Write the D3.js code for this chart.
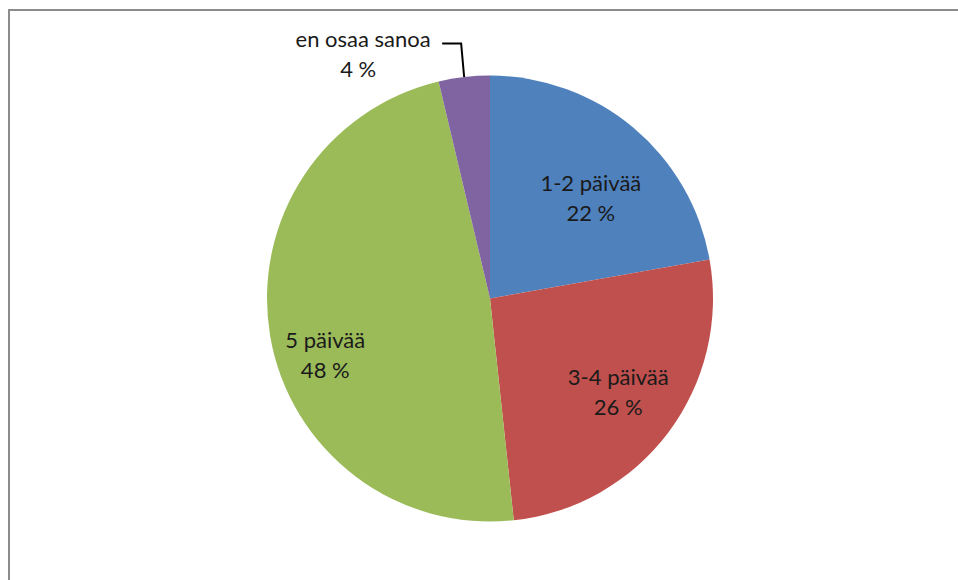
<!DOCTYPE html>
<html>
<head>
<meta charset="utf-8">
<script src="https://cdn.jsdelivr.net/npm/d3@7"></script>
<style>
  body { margin: 0; background: #fff; }
  svg { display: block; }
</style>
</head>
<body>
<svg id="chart" width="958" height="580"></svg>
<script>
// data (clockwise from 12 o'clock)
var categories = ["1-2 päivää", "3-4 päivää", "5 päivää", "en osaa sanoa"];
var shares = [22.2, 26.1, 48.0, 3.7];
var percentLabels = ["22 %", "26 %", "48 %", "4 %"];
var colors = ["#4F81BD", "#C0504D", "#9BBB59", "#8064A2"];

var svg = d3.select("#chart");
var cx = 490, cy = 298.5, radius = 223;
var font = "Lato, 'Open Sans', sans-serif";
var fontSize = 22;
var lineGap = 30;
// label radius (fraction of r) and angle nudge (degrees) per inside slice, "best fit" look
var labelFit = [[0.64, 5], [0.71, -1], [0.78, -9]];

// chart frame (only top and left edges visible)
svg.append("rect")
    .attr("x", 9)
    .attr("y", 10)
    .attr("width", 1000)
    .attr("height", 1000)
    .attr("fill", "none")
    .attr("stroke", "#8c8c8c")
    .attr("stroke-width", 2);

var data = categories.map(function (c, i) {
    return { name: c, value: shares[i], label: percentLabels[i], color: colors[i] };
});

var pie = d3.pie().sort(null).value(function (d) { return d.value; });
var arc = d3.arc().innerRadius(0).outerRadius(radius);
var arcs = pie(data);

var g = svg.append("g").attr("transform", "translate(" + cx + "," + cy + ")");

g.selectAll("path.slice")
    .data(arcs)
    .enter().append("path")
    .attr("class", "slice")
    .attr("d", arc)
    .attr("fill", function (d) { return d.data.color; });

function labelPos(d, i) {
    var a = (d.startAngle + d.endAngle) / 2 + labelFit[i][1] * Math.PI / 180;
    var r = radius * labelFit[i][0];
    return [r * Math.sin(a), -r * Math.cos(a)];
}

var inside = arcs.slice(0, 3);
var insideText = g.selectAll("text.inside")
    .data(inside)
    .enter().append("text")
    .attr("class", "inside")
    .attr("transform", function (d, i) {
        var p = labelPos(d, i);
        return "translate(" + p[0] + "," + p[1] + ")";
    })
    .attr("text-anchor", "middle")
    .style("font-family", font)
    .style("font-size", fontSize + "px")
    .attr("fill", "#1a1a1a");
insideText.append("tspan")
    .attr("x", 0)
    .attr("y", -lineGap / 2)
    .attr("dominant-baseline", "central")
    .text(function (d) { return d.data.name; });
insideText.append("tspan")
    .attr("x", 0)
    .attr("y", lineGap / 2)
    .attr("dominant-baseline", "central")
    .text(function (d) { return d.data.label; });

// outside label with leader line for the small slice
var small = arcs[3];
var edge = d3.arc().innerRadius(radius).outerRadius(radius).centroid(small);
var outer = [edge[0] - 3, -radius - 32];
g.append("path")
    .attr("d", d3.line()([edge, outer, [outer[0] - 19, outer[1]]]))
    .attr("fill", "none")
    .attr("stroke", "#000")
    .attr("stroke-width", 2);

var outText = g.append("text")
    .attr("text-anchor", "middle")
    .style("font-family", font)
    .style("font-size", fontSize + "px")
    .attr("fill", "#1a1a1a");
outText.append("tspan")
    .attr("x", outer[0] - 98)
    .attr("y", outer[1] - 5)
    .attr("dominant-baseline", "central")
    .text(small.data.name);
outText.append("tspan")
    .attr("x", outer[0] - 103)
    .attr("y", outer[1] + 25)
    .attr("dominant-baseline", "central")
    .text(small.data.label);
</script>
</body>
</html>
